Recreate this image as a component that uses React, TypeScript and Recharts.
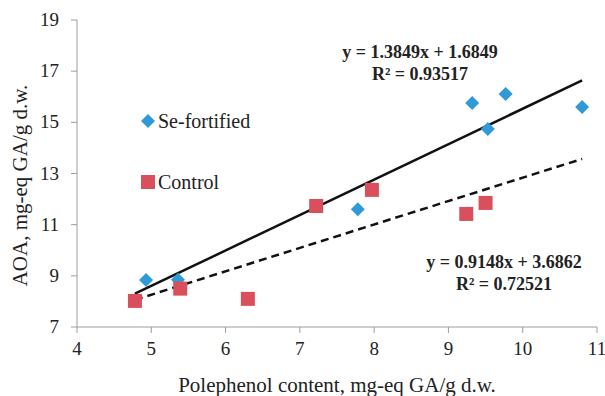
import {
  ScatterChart,
  Scatter,
  XAxis,
  YAxis,
  ReferenceLine,
} from 'recharts'

// values
const seX = [4.93, 5.36, 7.78, 9.32, 9.53, 9.77, 10.8]
const seY = [8.84, 8.85, 11.6, 15.76, 14.74, 16.11, 15.6]
const controlX = [4.78, 5.39, 6.3, 7.22, 7.97, 9.24, 9.5]
const controlY = [8.02, 8.5, 8.1, 11.73, 12.36, 11.42, 11.85]

const seTrend = [{ x: 4.78, y: 8.3 }, { x: 10.8, y: 16.64 }]
const controlTrend = [{ x: 4.78, y: 8.06 }, { x: 10.8, y: 13.57 }]

const xTicks = [4, 5, 6, 7, 8, 9, 10, 11]
const yTicks = [7, 9, 11, 13, 15, 17, 19]

const seLabel = ['y = 1.3849x + 1.6849', 'R² = 0.93517']
const controlLabel = ['y = 0.9148x + 3.6862', 'R² = 0.72521']

const BLUE = '#2f9ad6'
const RED = '#d94f5c'
const TEXT = '#222'
const FONT = '"Liberation Serif", "Times New Roman", serif'

const seData = seX.map((x, i) => ({ x, y: seY[i] }))
const controlData = controlX.map((x, i) => ({ x, y: controlY[i] }))

const Diamond = (props: any) => {
  const { cx, cy } = props
  const r = 7
  return (
    <path
      d={`M${cx},${cy - r} L${cx + r},${cy} L${cx},${cy + r} L${cx - r},${cy} Z`}
      fill={BLUE}
    />
  )
}

const Square = (props: any) => {
  const { cx, cy } = props
  const s = 7
  return <rect x={cx - s} y={cy - s} width={s * 2} height={s * 2} fill={RED} />
}

const XTick = (props: any) => {
  const { x, y, payload } = props
  return (
    <text x={x} y={y + 20} textAnchor="middle" fontFamily={FONT} fontSize={19} fill={TEXT}>
      {payload.value}
    </text>
  )
}

const YTick = (props: any) => {
  const { x, y, payload } = props
  return (
    <text x={x - 10} y={y + 6} textAnchor="end" fontFamily={FONT} fontSize={19} fill={TEXT}>
      {payload.value}
    </text>
  )
}

const eqStyle = {
  position: 'absolute' as const,
  fontFamily: FONT,
  fontWeight: 700,
  fontSize: 18,
  color: TEXT,
  textAlign: 'center' as const,
  lineHeight: '22px',
  width: 220,
}

const App = () => {
  return (
    <div
      style={{
        position: 'absolute',
        left: 0,
        top: 0,
        width: 605,
        height: 396,
        background: '#fff',
        fontFamily: FONT,
      }}
    >
      <ScatterChart width={605} height={396} margin={{ top: 20, right: 8, left: 0, bottom: 0 }}>
        <XAxis
          type="number"
          dataKey="x"
          domain={[4, 11]}
          ticks={xTicks}
          interval={0}
          height={69}
          stroke="#a09b97"
          tickSize={6}
          tick={<XTick />}
          label={{
            value: 'Polephenol content, mg-eq GA/g d.w.',
            position: 'insideBottom',
            offset: 4,
            style: { fontSize: 21, fill: TEXT, fontFamily: FONT },
          }}
        />
        <YAxis
          type="number"
          dataKey="y"
          domain={[7, 19]}
          ticks={yTicks}
          interval={0}
          width={77}
          stroke="#a09b97"
          tickSize={6}
          tick={<YTick />}
          label={{
            value: 'AOA, mg-eq GA/g d.w.',
            angle: -90,
            position: 'insideLeft',
            offset: 18,
            dy: 12,
            dx: 2,
            style: { fontSize: 21, fill: TEXT, fontFamily: FONT, textAnchor: 'middle' },
          }}
        />
        <ReferenceLine segment={seTrend} stroke="#111" strokeWidth={2.5} ifOverflow="visible" />
        <ReferenceLine
          segment={controlTrend}
          stroke="#111"
          strokeWidth={2.5}
          strokeDasharray="8 5"
          ifOverflow="visible"
        />
        <Scatter name="Se-fortified" data={seData} shape={Diamond} isAnimationActive={false} />
        <Scatter name="Control" data={controlData} shape={Square} isAnimationActive={false} />
      </ScatterChart>

      {/* legend sits inside the plot, like the original */}
      <div style={{ position: 'absolute', left: 140, top: 109, fontSize: 20, color: TEXT }}>
        <div style={{ display: 'flex', alignItems: 'center', height: 24 }}>
          <svg width={16} height={16}>
            <path d="M8,1 L15,8 L8,15 L1,8 Z" fill={BLUE} />
          </svg>
          <span style={{ marginLeft: 2 }}>Se-fortified</span>
        </div>
        <div style={{ display: 'flex', alignItems: 'center', height: 24, marginTop: 37 }}>
          <svg width={16} height={16}>
            <rect x={1} y={1} width={14} height={14} fill={RED} />
          </svg>
          <span style={{ marginLeft: 2 }}>Control</span>
        </div>
      </div>

      <div style={{ ...eqStyle, left: 310, top: 41 }}>
        <div>{seLabel[0]}</div>
        <div>{seLabel[1]}</div>
      </div>
      <div style={{ ...eqStyle, left: 394, top: 251 }}>
        <div>{controlLabel[0]}</div>
        <div>{controlLabel[1]}</div>
      </div>
    </div>
  )
}

export default App
